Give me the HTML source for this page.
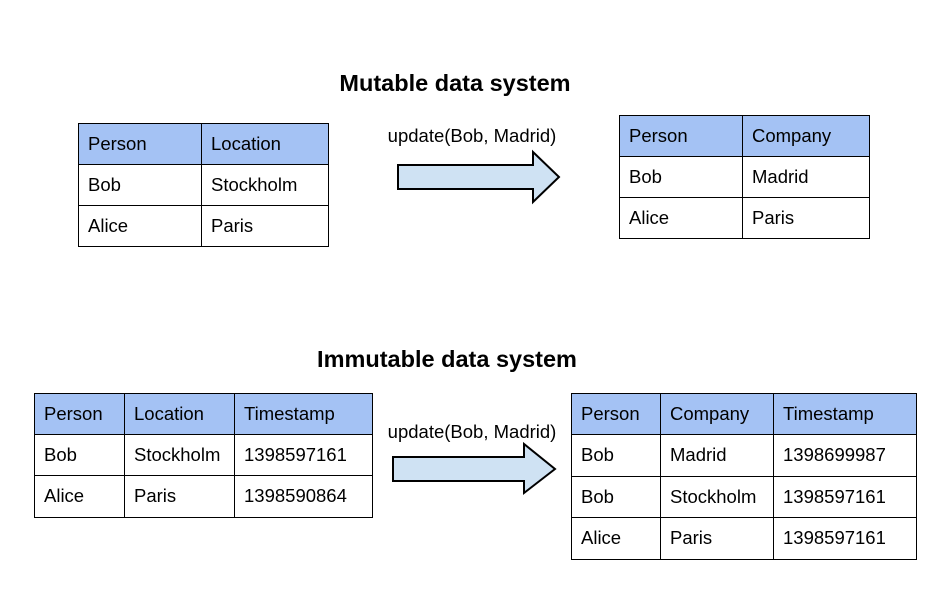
<!DOCTYPE html>
<html><head><meta charset="utf-8"><style>html,body{margin:0;padding:0;background:#fff}</style></head>
<body>
<svg width="938" height="589" xmlns="http://www.w3.org/2000/svg" font-family="Liberation Sans, Arial, sans-serif" font-size="18.5" fill="#000">
<rect width="938" height="589" fill="#fff"/>
<text x="455" y="91" font-size="23.5" font-weight="bold" text-anchor="middle">Mutable data system</text>
<text x="447" y="367" font-size="23.5" font-weight="bold" text-anchor="middle">Immutable data system</text>

<g stroke="#000" stroke-width="1">
<rect x="78.5" y="123.5" width="250" height="41" fill="#a4c2f4"/>
<rect x="78.5" y="123.5" width="250" height="123" fill="none"/>
<line x1="78" y1="205.5" x2="329" y2="205.5"/>
<line x1="201.5" y1="123" x2="201.5" y2="247"/>
<rect x="619.5" y="115.5" width="250" height="41" fill="#a4c2f4"/>
<rect x="619.5" y="115.5" width="250" height="123" fill="none"/>
<line x1="619" y1="197.5" x2="870" y2="197.5"/>
<line x1="742.5" y1="115" x2="742.5" y2="239"/>
<rect x="34.5" y="393.5" width="338" height="41" fill="#a4c2f4"/>
<rect x="34.5" y="393.5" width="338" height="124" fill="none"/>
<line x1="34" y1="475.5" x2="373" y2="475.5"/>
<line x1="124.5" y1="393" x2="124.5" y2="518"/>
<line x1="234.5" y1="393" x2="234.5" y2="518"/>
<rect x="571.5" y="393.5" width="345" height="41" fill="#a4c2f4"/>
<rect x="571.5" y="393.5" width="345" height="166" fill="none"/>
<line x1="571" y1="476.5" x2="917" y2="476.5"/>
<line x1="571" y1="517.5" x2="917" y2="517.5"/>
<line x1="660.5" y1="393" x2="660.5" y2="560"/>
<line x1="773.5" y1="393" x2="773.5" y2="560"/>
</g>
<g stroke="#000" stroke-width="2" fill="#cfe2f3" stroke-linejoin="miter">
<polygon points="398,165 533,165 533,152 559,177 533,202 533,189 398,189"/>
<polygon points="393,457 524,457 524,444 555,469 524,493 524,481 393,481"/>
</g>
<text x="472" y="142" text-anchor="middle">update(Bob, Madrid)</text>
<text x="472" y="438" text-anchor="middle">update(Bob, Madrid)</text>

<text x="88" y="150">Person</text><text x="211" y="150">Location</text>
<text x="88" y="191">Bob</text><text x="211" y="191">Stockholm</text>
<text x="88" y="232">Alice</text><text x="211" y="232">Paris</text>

<text x="629" y="142">Person</text><text x="752" y="142">Company</text>
<text x="629" y="183">Bob</text><text x="752" y="183">Madrid</text>
<text x="629" y="224">Alice</text><text x="752" y="224">Paris</text>

<text x="44" y="420">Person</text><text x="134" y="420">Location</text><text x="244" y="420">Timestamp</text>
<text x="44" y="461">Bob</text><text x="134" y="461">Stockholm</text><text x="244" y="461">1398597161</text>
<text x="44" y="502">Alice</text><text x="134" y="502">Paris</text><text x="244" y="502">1398590864</text>

<text x="581" y="420">Person</text><text x="670" y="420">Company</text><text x="783" y="420">Timestamp</text>
<text x="581" y="461">Bob</text><text x="670" y="461">Madrid</text><text x="783" y="461">1398699987</text>
<text x="581" y="503">Bob</text><text x="670" y="503">Stockholm</text><text x="783" y="503">1398597161</text>
<text x="581" y="544">Alice</text><text x="670" y="544">Paris</text><text x="783" y="544">1398597161</text>
</svg>
</body></html>
